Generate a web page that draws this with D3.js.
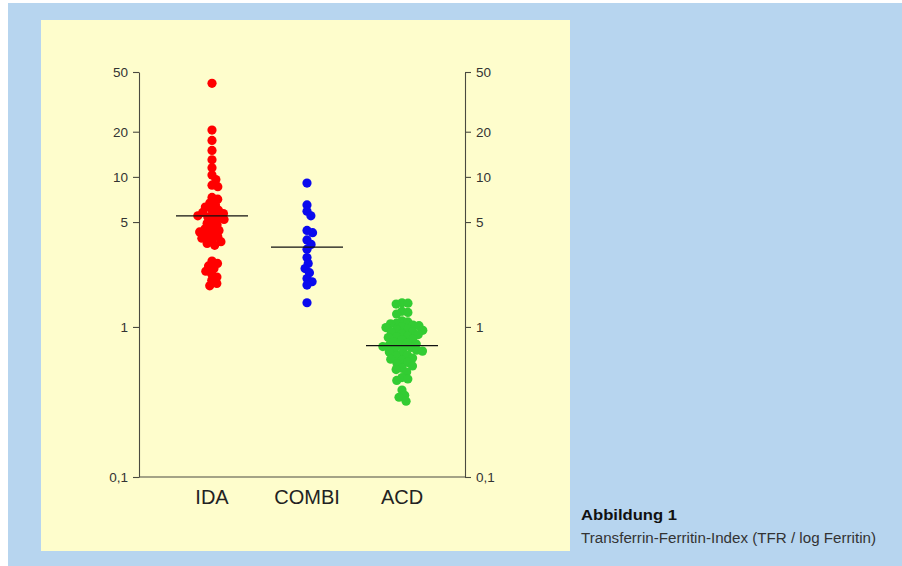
<!DOCTYPE html>
<html>
<head>
<meta charset="utf-8">
<script src="https://cdn.jsdelivr.net/npm/d3@7"></script>
<style>
  html, body { margin: 0; padding: 0; background: #fff; }
  text { font-family: "Liberation Sans", Arial, Helvetica, sans-serif; }
</style>
</head>
<body>
<div id="chart"></div>
<script>
// values (TFR / log Ferritin)
var categories = ["IDA", "COMBI", "ACD"];
var idaValues = [42, 20.5, 17.5, 15, 13, 11.5, 10.3, 9.6, 8.8, 8.6, 7.3, 7.1,
    6.7, 6.5, 6.3, 6.1, 6.0, 5.8, 5.7, 5.6, 5.5, 5.4, 5.3, 5.2, 5.1, 4.9, 4.8,
    4.6, 4.5, 4.4, 4.3, 4.2, 4.1, 4.0, 3.9, 3.8, 3.7, 3.6, 3.5,
    2.75, 2.65, 2.55, 2.45, 2.35, 2.25, 2.15, 2.05, 1.95, 1.88];
var combiValues = [9.1, 6.5, 5.9, 5.5, 4.4, 4.25, 3.8, 3.55, 3.3, 2.9, 2.65,
    2.45, 2.3, 2.1, 2.0, 1.9, 1.45];
var acdValues = [1.45, 1.44, 1.42, 1.27, 1.25, 1.22,
    1.10, 1.08, 1.06, 1.05, 1.03, 1.02, 1.00, 0.99, 0.97, 0.96, 0.95, 0.93,
    0.92, 0.90, 0.89, 0.87, 0.86, 0.85, 0.83, 0.82, 0.80, 0.78, 0.77, 0.76,
    0.75, 0.74, 0.73, 0.72, 0.71, 0.70, 0.69, 0.68, 0.66, 0.65, 0.64, 0.62,
    0.61, 0.60, 0.58, 0.57, 0.55, 0.53, 0.52, 0.50,
    0.46, 0.45, 0.44, 0.38, 0.35, 0.34, 0.32];
var medianValues = [5.5, 3.4, 0.75];
var dotColors = ["#ff0000", "#0a0aee", "#33cc33"];
var tickValues = [0.1, 1, 5, 10, 20, 50];

var W = 902, H = 566;

var svg = d3.select("#chart").append("svg")
    .attr("width", W)
    .attr("height", H);

// panels
svg.append("rect").attr("x", 8).attr("y", 3).attr("width", W - 8).attr("height", H - 3)
    .attr("fill", "#b7d5ef");
svg.append("rect").attr("x", 41).attr("y", 20).attr("width", 529).attr("height", 531)
    .attr("fill", "#fefdcc");

var plotLeft = 139, plotRight = 465, plotTop = 72, plotBottom = 477;

var y = d3.scaleLog().domain([0.1, 50]).range([plotBottom, plotTop]);
var x = d3.scalePoint().domain(categories).range([212, 402]);

var fmt = function(d) { return String(d).replace(".", ","); };

var axL = svg.append("g")
    .attr("transform", "translate(" + plotLeft + ",0)")
    .call(d3.axisLeft(y).tickValues(tickValues).tickFormat(fmt).tickSize(6).tickSizeOuter(0).tickPadding(5));
var axR = svg.append("g")
    .attr("transform", "translate(" + plotRight + ",0)")
    .call(d3.axisRight(y).tickValues(tickValues).tickFormat(fmt).tickSize(6).tickSizeOuter(0).tickPadding(5));

[axL, axR].forEach(function(a) {
    a.selectAll("path, line").attr("stroke", "#4a4a40").attr("stroke-width", 1.1);
    a.selectAll("text").attr("fill", "#333").style("font-size", "13.5px")
        .style("font-family", "'Liberation Sans', Arial, sans-serif");
});

svg.append("line")
    .attr("x1", plotLeft).attr("x2", plotRight)
    .attr("y1", y(0.1)).attr("y2", y(0.1))
    .attr("stroke", "#4a4a40").attr("stroke-width", 1.1);

// simple beeswarm: put each dot as close to the centre as it fits
function swarm(values, cx, minDist) {
    var pts = values.map(function(v) { return {v: v, y: y(v)}; })
        .sort(function(a, b) { return a.y - b.y; });
    var placed = [];
    pts.forEach(function(p) {
        var cands = [0];
        placed.forEach(function(q) {
            var dy = p.y - q.y;
            if (Math.abs(dy) < minDist) {
                var dx = Math.sqrt(minDist * minDist - dy * dy);
                cands.push(q.dx + dx, q.dx - dx);
            }
        });
        cands.sort(function(a, b) { return Math.abs(a) - Math.abs(b); });
        for (var i = 0; i < cands.length; i++) {
            var c = cands[i];
            var ok = placed.every(function(q) {
                return (q.dx - c) * (q.dx - c) + (q.y - p.y) * (q.y - p.y) >= minDist * minDist - 1e-6;
            });
            if (ok) { p.dx = c; break; }
        }
        placed.push(p);
    });
    placed.forEach(function(p) { p.x = cx + p.dx; });
    return placed;
}

var groups = [idaValues, combiValues, acdValues];

groups.forEach(function(vals, i) {
    var pts = swarm(vals, x(categories[i]), 6);
    svg.append("g").selectAll("circle")
        .data(pts)
        .enter().append("circle")
            .attr("cx", function(d) { return d.x; })
            .attr("cy", function(d) { return d.y; })
            .attr("r", 4.6)
            .attr("fill", dotColors[i]);
});

// median lines
svg.append("g").selectAll("line")
    .data(medianValues)
    .enter().append("line")
        .attr("x1", function(d, i) { return x(categories[i]) - 36; })
        .attr("x2", function(d, i) { return x(categories[i]) + 36; })
        .attr("y1", function(d) { return y(d); })
        .attr("y2", function(d) { return y(d); })
        .attr("stroke", "#111")
        .attr("stroke-width", 1.2);

// category labels
svg.append("g").selectAll("text")
    .data(categories)
    .enter().append("text")
        .attr("x", function(d) { return x(d); })
        .attr("y", 504)
        .attr("text-anchor", "middle")
        .attr("fill", "#222")
        .style("font-size", "20px")
        .text(function(d) { return d; });

// caption
svg.append("text")
    .attr("x", 581).attr("y", 520)
    .attr("fill", "#111")
    .style("font-size", "14px").style("font-weight", "bold")
    .attr("textLength", 96).attr("lengthAdjust", "spacingAndGlyphs")
    .text("Abbildung 1");
svg.append("text")
    .attr("x", 581).attr("y", 543)
    .attr("fill", "#333")
    .style("font-size", "14px")
    .attr("textLength", 295).attr("lengthAdjust", "spacingAndGlyphs")
    .text("Transferrin-Ferritin-Index (TFR / log Ferritin)");
</script>
</body>
</html>
